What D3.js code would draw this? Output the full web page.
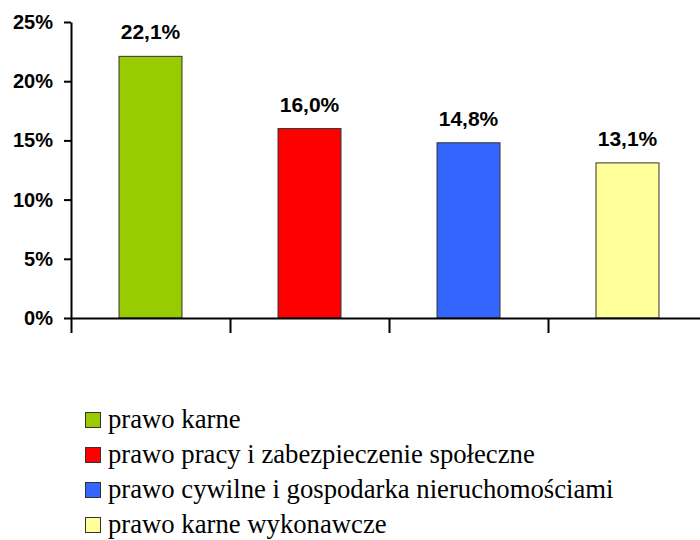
<!DOCTYPE html>
<html lang="pl">
<head>
<meta charset="utf-8">
<title>Wykres</title>
<script src="https://cdn.jsdelivr.net/npm/d3@7"></script>
<style>
  html, body { margin: 0; padding: 0; background: #fff; }
  svg { display: block; }
  .axis path, .axis line { stroke: #000; stroke-width: 2; }
  .axis text { font-family: "Liberation Sans", Arial, sans-serif; font-weight: bold; font-size: 20px; fill: #000; }
  .legend text { font-family: "Liberation Serif", "Times New Roman", serif; font-size: 26.7px; fill: #000; }
</style>
</head>
<body>
<script>
  // data
  let categories = ["prawo karne", "prawo pracy i zabezpieczenie społeczne",
                    "prawo cywilne i gospodarka nieruchomościami", "prawo karne wykonawcze"];
  let values = [22.1, 16.0, 14.8, 13.1];
  let colors = ["#99CC00", "#FF0000", "#3366FF", "#FFFF99"];
  let yTicks = [0, 5, 10, 15, 20, 25];

  let w = 700, h = 540;
  let plotLeft = 71, plotRight = 707, plotTop = 22, plotBottom = 318;

  let svg = d3.select("body").append("svg")
    .attr("width", w)
    .attr("height", h);

  let x = d3.scaleBand()
    .domain(categories)
    .range([plotLeft, plotRight])
    .paddingInner(0.604)
    .paddingOuter(0.302);

  let y = d3.scaleLinear()
    .domain([0, 25])
    .range([plotBottom, plotTop]);

  // category boundaries for the x ticks
  let xEdge = d3.scaleLinear()
    .domain([0, categories.length])
    .range([plotLeft, plotRight]);

  // bars
  svg.append("g").selectAll("rect")
    .data(values)
    .enter()
    .append("rect")
    .attr("x", (d, i) => x(categories[i]))
    .attr("y", d => y(d))
    .attr("width", x.bandwidth())
    .attr("height", d => y(0) - y(d))
    .attr("fill", (d, i) => colors[i])
    .attr("stroke", "#333")
    .attr("stroke-width", 1);

  // value labels
  svg.append("g").selectAll("text")
    .data(values)
    .enter()
    .append("text")
    .attr("x", (d, i) => x(categories[i]) + x.bandwidth() / 2)
    .attr("y", d => y(d) - 17)
    .attr("text-anchor", "middle")
    .style("font-family", "'Liberation Sans', Arial, sans-serif")
    .style("font-weight", "bold")
    .style("font-size", "21px")
    .text(d => d.toFixed(1).replace(".", ",") + "%");

  // y axis
  let yAxis = d3.axisLeft(y)
    .tickValues(yTicks)
    .tickSizeInner(7)
    .tickSizeOuter(0)
    .tickPadding(11)
    .tickFormat(d => d + "%");

  svg.append("g")
    .attr("class", "axis")
    .attr("transform", "translate(" + plotLeft + ",0)")
    .call(yAxis);

  // x axis, ticks between categories
  let xAxis = d3.axisBottom(xEdge)
    .tickValues(d3.range(categories.length + 1))
    .tickSizeInner(15)
    .tickSizeOuter(0)
    .tickFormat("");

  svg.append("g")
    .attr("class", "axis")
    .attr("transform", "translate(0," + plotBottom + ")")
    .call(xAxis);

  // legend
  let legend = svg.append("g")
    .attr("class", "legend")
    .selectAll("g")
    .data(categories)
    .enter()
    .append("g")
    .attr("transform", (d, i) => "translate(85," + (428 + i * 35) + ")");

  legend.append("rect")
    .attr("x", 0.5)
    .attr("y", -15.5)
    .attr("width", 15)
    .attr("height", 15)
    .attr("fill", (d, i) => colors[i])
    .attr("stroke", "#333")
    .attr("stroke-width", 1);

  legend.append("text")
    .attr("x", 23)
    .attr("y", 0)
    .text(d => d);
</script>
</body>
</html>
